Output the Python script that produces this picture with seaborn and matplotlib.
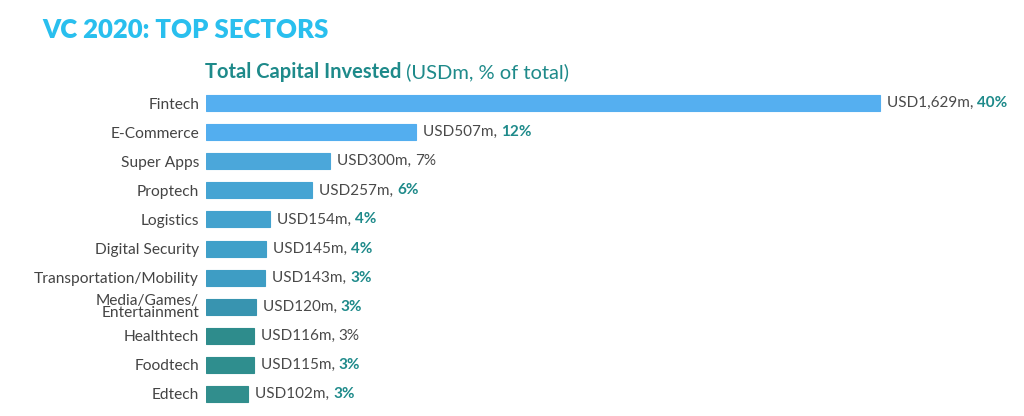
import pandas as pd
import seaborn as sns
import matplotlib.pyplot as plt

# data
sectors = ['Fintech', 'E-Commerce', 'Super Apps', 'Proptech', 'Logistics',
           'Digital Security', 'Transportation/Mobility', 'Media/Games/\nEntertainment',
           'Healthtech', 'Foodtech', 'Edtech']
invested = [1629, 507, 300, 257, 154, 145, 143, 120, 116, 115, 102]
share = [40, 12, 7, 6, 4, 4, 3, 3, 3, 3, 3]
share_highlight = [True, True, False, True, True, True, True, True, False, True, True]
bar_colors = ['#55AFF0', '#53AEEF', '#4BA7DA', '#45A4D3', '#43A2CE', '#40A0C9',
              '#3E9DC4', '#3894B0', '#2E8C8C', '#2F8E8E', '#318E8D']

df = pd.DataFrame({'Sector': sectors, 'USDm': invested})

sns.set_style('white')
plt.rcParams['font.family'] = ['Lato', 'DejaVu Sans']

fig = plt.figure(figsize=(10.24, 4.16), dpi=100)
ax = fig.add_axes([206 / 1024, 0.018, (1010 - 206) / 1024, 0.769])

sns.barplot(data=df, x='USDm', y='Sector', hue='Sector', palette=bar_colors,
            legend=False, width=0.55, orient='h', ax=ax, saturation=1)

# thin darker outline like the original
for p, c in zip(ax.patches, bar_colors):
    p.set_edgecolor(c)
    p.set_linewidth(0.8)

ax.set_xlim(0, 1943)
ax.set_ylim(10.5, -0.5)
ax.set_xlabel('')
ax.set_ylabel('')
ax.set_xticks([])
ax.tick_params(axis='y', length=0, pad=5, labelsize=11.2, labelcolor='#444444')
for lbl in ax.get_yticklabels():
    lbl.set_linespacing(0.8)
sns.despine(ax=ax, left=True, bottom=True)

teal = '#1E8A8A'
for i, (v, s, hl) in enumerate(zip(invested, share, share_highlight)):
    t1 = ax.annotate(f'USD{v:,}m, ', xy=(v, i), xytext=(5, 0), textcoords='offset points',
                     va='center', ha='left', fontsize=11, color='#4a4a4a')
    ax.annotate(f'{s}%', xy=(1, 0.5), xycoords=t1, va='center', ha='left', fontsize=11,
                color=teal if hl else '#4a4a4a', fontweight='bold' if hl else 'normal')

fig.text(42 / 1024, 1 - 30 / 416, 'VC 2020: TOP SECTORS', fontsize=18.5, fontweight='heavy',
         color='#29BFEE', va='center', ha='left')
sub = fig.text(205 / 1024, 1 - 72 / 416, 'Total Capital Invested', fontsize=14.5,
               fontweight='bold', color=teal, va='center', ha='left')
ax.annotate(' (USDm, % of total)', xy=(1, 0.5), xycoords=sub, va='center', ha='left',
            fontsize=14.5, color=teal, annotation_clip=False)

fig.savefig('out.png', dpi=100)
